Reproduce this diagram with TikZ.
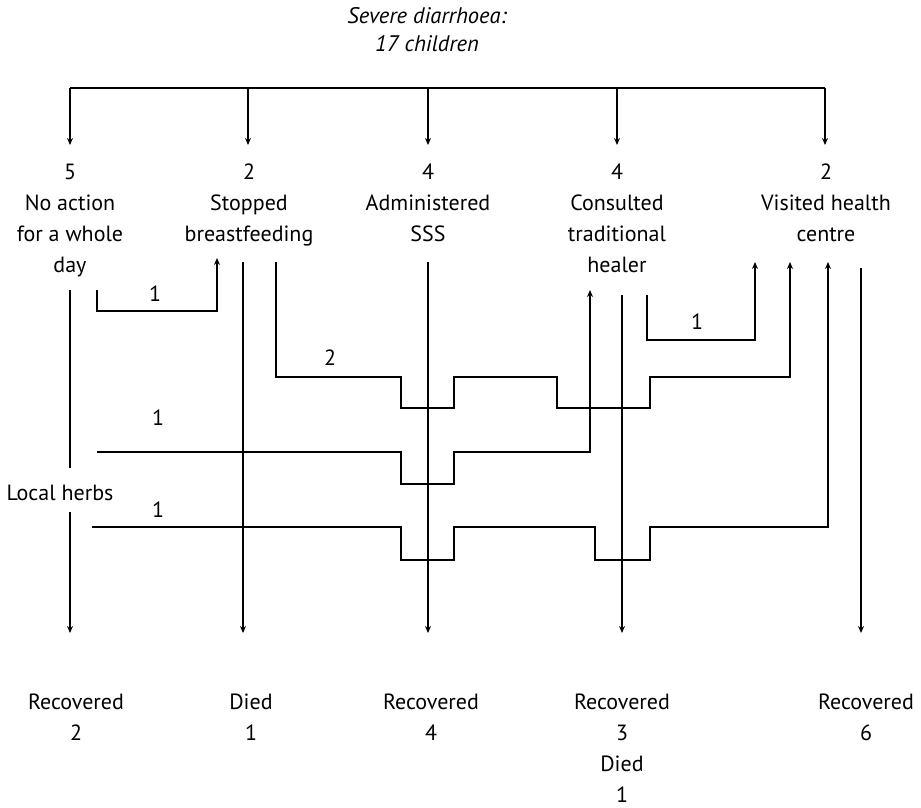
\documentclass[tikz,border=0pt]{standalone}
\usepackage{fontspec}
\setmainfont{PT Sans}
\usetikzlibrary{arrows.meta}
\begin{document}
\begin{tikzpicture}[x=1pt,y=-1pt,
  lbl/.style={font=\fontsize{22}{31}\selectfont, align=center, inner sep=0pt, anchor=north},
  num/.style={font=\fontsize{22}{26}\selectfont, inner sep=0pt},
  ln/.style={line width=2.2pt},
  arr/.style={line width=2.2pt, -{Stealth[length=7pt,width=6pt]}}]
\useasboundingbox (0,0) rectangle (921,808);
% title
\node[lbl, font=\fontsize{22.5}{28}\selectfont\itshape] (t) at (427,7) {Severe diarrhoea:\\17 children};
% categories
\node[lbl] (c1) at (70,164) {5\\No action\\for a whole\\day};
\node[lbl] (c2) at (249,164) {2\\Stopped\\breastfeeding};
\node[lbl] (c3) at (428,164) {4\\Administered\\SSS};
\node[lbl] (c4) at (617,164) {4\\Consulted\\traditional\\healer};
\node[lbl] (c5) at (826,164) {2\\Visited health\\centre};
% outcomes
\node[lbl] (o1) at (76,694) {Recovered\\2};
\node[lbl] (o2) at (251,694) {Died\\1};
\node[lbl] (o3) at (431,694) {Recovered\\4};
\node[lbl] (o4) at (622,694) {Recovered\\3\\Died\\1};
\node[lbl] (o5) at (866,694) {Recovered\\6};
\node[num] (lh) at (60,493) {Local herbs};
% top bar
\draw[ln] (70,88) -- (825,88);
\draw[arr] (70,88) -- (70,145);
\draw[arr] (248,88) -- (248,145);
\draw[arr] (428,88) -- (428,145);
\draw[arr] (617,88) -- (617,145);
\draw[arr] (825,88) -- (825,145);
% column 1
\draw[ln] (70,290) -- (70,468);
\draw[arr] (70,512) -- (70,633);
\draw[arr] (97,290) -- (97,311) -- (217,311) -- (217,258);
\node[num] (n1) at (155,294) {1};
% column 2
\draw[arr] (243,262) -- (243,633);
\draw[arr] (276,262) -- (276,377) -- (401,377) -- (401,408) -- (454,408) -- (454,377)
  -- (557,377) -- (557,408) -- (650,408) -- (650,377) -- (790,377) -- (790,262);
\node[num] (n2) at (330,358) {2};
% local herbs routes
\draw[arr] (97,452) -- (401,452) -- (401,484) -- (454,484) -- (454,452) -- (590,452) -- (590,290);
\node[num] (n3) at (158,418) {1};
\draw[arr] (92,527) -- (401,527) -- (401,560) -- (454,560) -- (454,527) -- (595,527)
  -- (595,560) -- (650,560) -- (650,527) -- (828,527) -- (828,262);
\node[num] (n4) at (158,510) {1};
% column 3
\draw[arr] (428,262) -- (428,633);
% column 4
\draw[arr] (622,295) -- (622,633);
\draw[arr] (647,295) -- (647,340) -- (755,340) -- (755,262);
\node[num] (n5) at (697,322) {1};
% column 5
\draw[arr] (861,268) -- (861,633);
\end{tikzpicture}
\end{document}
